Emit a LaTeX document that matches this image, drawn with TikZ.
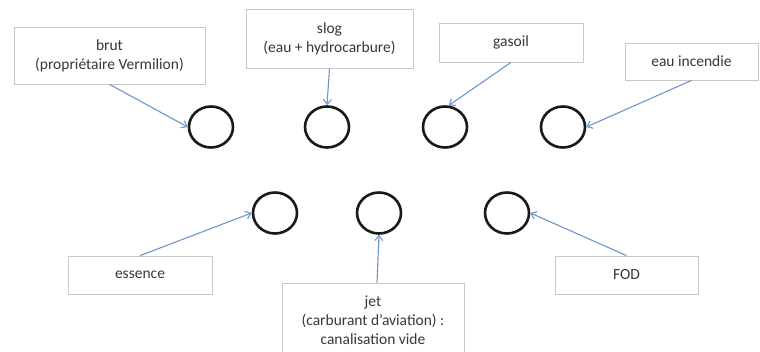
\documentclass[tikz,border=0pt]{standalone}
\usepackage{fontspec}
\setmainfont{Carlito}
\usetikzlibrary{arrows.meta,shapes.geometric,calc}
\definecolor{arrowblue}{RGB}{110,150,205}
\definecolor{boxgray}{RGB}{200,200,200}
\definecolor{txtgray}{RGB}{55,55,55}
\begin{document}
\begin{tikzpicture}[x=1pt,y=-1pt,
 lbl/.style={draw=boxgray, line width=0.8pt, rectangle, align=center, text=txtgray, font=\fontsize{15.5}{19}\selectfont, inner sep=0pt},
 tank/.style={draw=black!90, line width=2.6pt, ellipse, minimum width=44pt, minimum height=41pt, inner sep=0pt},
 feed/.style={draw=arrowblue, line width=1.1pt, -{Straight Barb[length=5pt,width=8pt]}}]
\clip (0,0) rectangle (760,352);
\fill[white] (0,0) rectangle (760,352);
\node[lbl, minimum width=191pt, minimum height=57pt] (brut) at (109.5,55.5) {brut\\(propriétaire Vermilion)};
\node[lbl, minimum width=167pt, minimum height=59pt] (slog) at (329.5,38.5) {slog\\(eau + hydrocarbure)};
\node[lbl, minimum width=144pt, minimum height=39pt] (gasoil) at (511,42.5) {gasoil};
\node[lbl, minimum width=133pt, minimum height=37pt] (eau) at (691.5,61.5) {eau incendie};
\node[lbl, minimum width=144pt, minimum height=38pt] (essence) at (140,275) {essence};
\node[lbl, minimum width=182pt, minimum height=74pt] (jet) at (373,320) {jet\\(carburant d'aviation) :\\canalisation vide};
\node[lbl, minimum width=143pt, minimum height=38pt] (fod) at (626.5,275) {FOD};
\node[tank] (c1) at (211,127) {};
\node[tank] (c2) at (327,127) {};
\node[tank] (c3) at (445,127) {};
\node[tank] (c4) at (563,127) {};
\node[tank] (c5) at (275,213) {};
\node[tank] (c6) at (379,213) {};
\node[tank] (c7) at (507,213) {};
\draw[feed] (brut.south) -- (c1.west);
\draw[feed] (slog.south) -- (c2.north);
\draw[feed] (gasoil.south) -- (c3.80);
\draw[feed] (eau.south) -- (c4.east);
\draw[feed] (essence.north) -- (c5.west);
\draw[feed] ([xshift=4pt]jet.north) -- (c6.south);
\draw[feed] (fod.north) -- (c7.east);
\end{tikzpicture}
\end{document}
